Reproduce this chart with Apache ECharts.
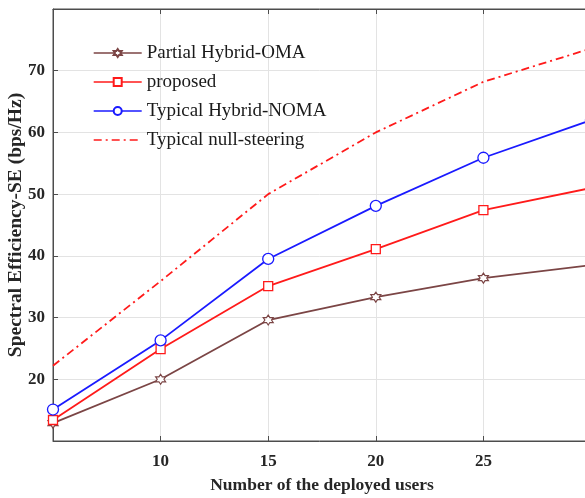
<!DOCTYPE html>
<html><head><meta charset="utf-8">
<script src="https://cdn.jsdelivr.net/npm/echarts@6/dist/echarts.min.js"></script>
<style>html,body{margin:0;padding:0;background:#fff}#c{width:585px;height:498px}</style>
</head><body><div id="c"></div>
<script>
const users = [5, 10, 15, 20, 25, 30];
const partialHybridOMA = [12.9, 20.0, 29.6, 33.3, 36.4, 38.5];
const proposed = [13.4, 24.9, 35.1, 41.1, 47.4, 51.0];
const typicalHybridNOMA = [15.1, 26.3, 39.5, 48.1, 55.9, 62.0];
const typicalNullSteering = [22.2, 35.9, 50.0, 60.0, 68.2, 73.6];
const seriesNames = ['Partial Hybrid-OMA', 'proposed', 'Typical Hybrid-NOMA', 'Typical null-steering'];

const pairs = ys => users.map((x, i) => [x, ys[i]]);
const star6 = 'path://M0,-10 L2.9,-5 L8.66,-5 L5.8,0 L8.66,5 L2.9,5 L0,10 L-2.9,5 L-8.66,5 L-5.8,0 L-8.66,-5 L-2.9,-5 Z';
const serif = '"Liberation Serif","Times New Roman",serif';
const lblStyle = {fontFamily: serif, fontWeight: 'bold', fontSize: 17, color: '#262626'};

const chart = echarts.init(document.getElementById('c'), null, {renderer: 'canvas'});
chart.setOption({
  animation: false,
  backgroundColor: '#fff',
  grid: {left: 53, top: 9, right: -6, bottom: 57, show: true, borderColor: '#4d4d4d', borderWidth: 1,
         containLabel: false, outerBoundsMode: 'none'},
  legend: {
    orient: 'vertical', left: 93, top: 43, padding: 0, itemWidth: 48, itemHeight: 10, itemGap: 9,
    lineStyle: {width: 1.4},
    data: [
      {name: seriesNames[0]},
      {name: seriesNames[1]},
      {name: seriesNames[2]},
      {name: seriesNames[3], itemStyle: {opacity: 0}}
    ],
    textStyle: {fontFamily: serif, fontSize: 19, color: '#1a1a1a', lineHeight: 20}
  },
  xAxis: [{
    type: 'value', min: 5, max: 30, interval: 5,
    name: 'Number of the deployed users', nameLocation: 'middle', nameGap: 35, nameMoveOverlap: false,
    nameTextStyle: {fontFamily: serif, fontWeight: 'bold', fontSize: 17.5, color: '#262626'},
    axisLine: {lineStyle: {color: '#4d4d4d', width: 1}},
    axisTick: {inside: true, length: 5, lineStyle: {color: '#4d4d4d'}},
    axisLabel: Object.assign({showMinLabel: false, showMaxLabel: false, margin: 12}, lblStyle),
    splitLine: {show: true, lineStyle: {color: '#e3e3e3', width: 1}}
  }, {
    type: 'value', position: 'top', min: 5, max: 30, interval: 5,
    axisLine: {show: true, lineStyle: {color: '#4d4d4d'}},
    axisTick: {inside: true, length: 5, lineStyle: {color: '#4d4d4d'}},
    axisLabel: {show: false}, splitLine: {show: false}
  }],
  yAxis: {
    type: 'value', min: 10, max: 80, interval: 10,
    name: 'Spectral Efficiency-SE (bps/Hz)', nameLocation: 'middle', nameGap: 27, nameMoveOverlap: false,
    nameTextStyle: {fontFamily: serif, fontWeight: 'bold', fontSize: 19.5, color: '#262626'},
    axisLine: {show: true, lineStyle: {color: '#4d4d4d', width: 1}},
    axisTick: {show: true, inside: true, length: 5, lineStyle: {color: '#4d4d4d'}},
    axisLabel: Object.assign({showMinLabel: false, showMaxLabel: false, margin: 8}, lblStyle),
    splitLine: {show: true, lineStyle: {color: '#e3e3e3', width: 1}}
  },
  series: [
    {name: seriesNames[0], type: 'line', data: pairs(partialHybridOMA), symbol: star6, symbolSize: 10,
     color: '#7b4545', lineStyle: {width: 1.8, color: '#7b4545'}, itemStyle: {color: '#fff', borderColor: '#7b4545', borderWidth: 1.2}},
    {name: seriesNames[1], type: 'line', data: pairs(proposed), symbol: 'rect', symbolSize: 9,
     color: '#ff1a1a', lineStyle: {width: 1.8, color: '#ff1a1a'}, itemStyle: {color: '#fff', borderColor: '#ff1a1a', borderWidth: 1.3}},
    {name: seriesNames[2], type: 'line', data: pairs(typicalHybridNOMA), symbol: 'circle', symbolSize: 11,
     color: '#1a1aff', lineStyle: {width: 1.8, color: '#1a1aff'}, itemStyle: {color: '#fff', borderColor: '#1a1aff', borderWidth: 1.3}},
    {name: seriesNames[3], type: 'line', data: pairs(typicalNullSteering), symbol: 'none', showSymbol: false,
     color: '#ff1a1a', lineStyle: {width: 1.8, color: '#ff1a1a', type: [8, 4, 2, 4]}}
  ]
});
</script></body></html>
